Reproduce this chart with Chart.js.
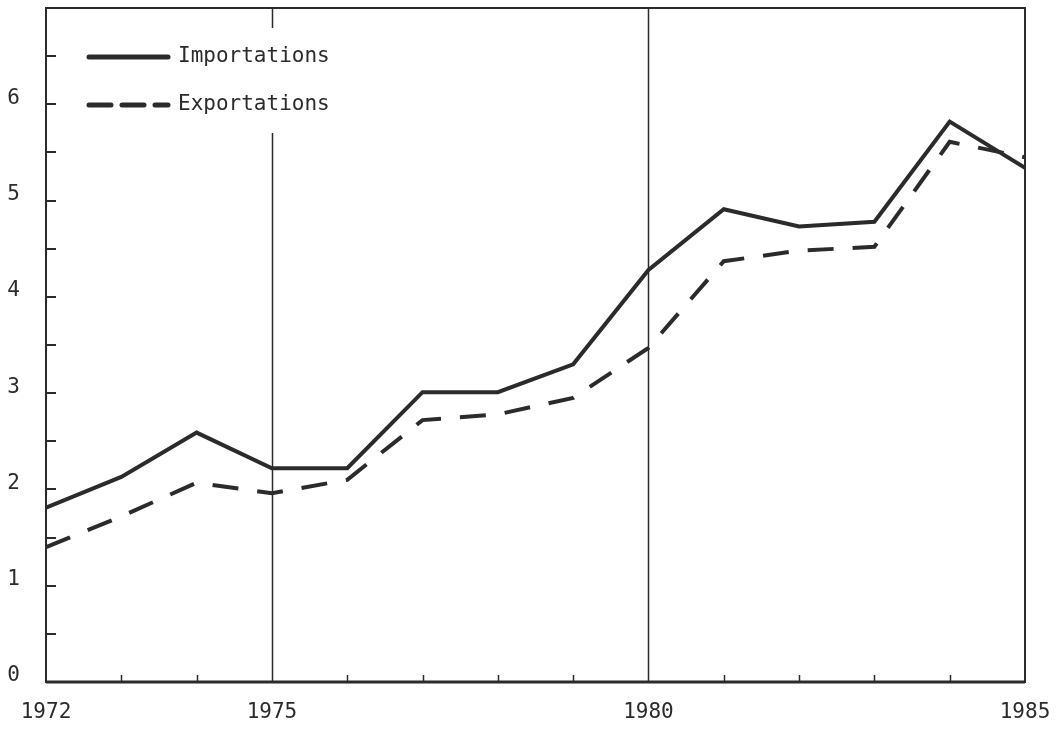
<!DOCTYPE html>
<html>
<head>
<meta charset="utf-8">
<script src="https://cdn.jsdelivr.net/npm/chart.js@4.4.1/dist/chart.umd.min.js"></script>
<style>
  html, body { margin: 0; padding: 0; background: #fff; }
  #wrap { width: 1059px; height: 730px; }
</style>
</head>
<body>
<div id="wrap"><canvas id="tradeChart"></canvas></div>
<script>
const years = [1972, 1973, 1974, 1975, 1976, 1977, 1978, 1979, 1980, 1981, 1982, 1983, 1984, 1985];
const importations = [1.81, 2.13, 2.59, 2.22, 2.22, 3.01, 3.01, 3.30, 4.28, 4.91, 4.73, 4.78, 5.82, 5.34];
const exportations = [1.40, 1.72, 2.07, 1.96, 2.10, 2.72, 2.78, 2.95, 3.47, 4.37, 4.48, 4.52, 5.61, 5.45];
const labelledYears = [1972, 1975, 1980, 1985];
const markerYears = [1975, 1980];
const seriesNames = ['Importations', 'Exportations'];

const ink = '#2b2b2b';
const fontFamily = '"DejaVu Sans Mono", "Liberation Mono", monospace';

function toPoints(values) {
    return years.map((y, i) => ({ x: y, y: values[i] }));
}

function noPad(s) {
    s.paddingTop = 0;
    s.paddingBottom = 0;
    s.paddingLeft = 0;
    s.paddingRight = 0;
}

// frame, inward ticks, year markers and the legend box
const framePlugin = {
    id: 'frame',
    beforeDatasetsDraw(chart) {
        const c = chart.ctx;
        const a = chart.chartArea;
        const xs = chart.scales.x;
        const ys = chart.scales.y;
        c.save();
        c.strokeStyle = ink;

        // vertical marker lines
        c.lineWidth = 1.5;
        markerYears.forEach(yr => {
            const px = Math.round(xs.getPixelForValue(yr)) + 0.5;
            c.beginPath();
            c.moveTo(px, a.top);
            c.lineTo(px, a.bottom);
            c.stroke();
        });

        // white box behind the legend
        c.fillStyle = '#fff';
        c.fillRect(60, 28, 285, 105);

        // left ticks every half unit
        c.lineWidth = 2;
        for (let v = 0.5; v < ys.max; v += 0.5) {
            const py = Math.round(ys.getPixelForValue(v));
            c.beginPath();
            c.moveTo(a.left, py);
            c.lineTo(a.left + 10, py);
            c.stroke();
        }
        // bottom ticks every year
        c.lineWidth = 1.5;
        years.forEach(yr => {
            if (yr === xs.min || yr === xs.max || markerYears.includes(yr)) return;
            const px = Math.round(xs.getPixelForValue(yr)) + 0.5;
            c.beginPath();
            c.moveTo(px, a.bottom);
            c.lineTo(px, a.bottom - 7);
            c.stroke();
        });

        // frame
        c.lineWidth = 2;
        c.strokeRect(a.left, a.top, a.right - a.left, a.bottom - a.top);
        c.lineWidth = 3;
        c.beginPath();
        c.moveTo(a.left, a.bottom);
        c.lineTo(a.right, a.bottom);
        c.stroke();
        c.restore();
    },
    afterDraw(chart) {
        const c = chart.ctx;
        const ds = chart.data.datasets;
        c.save();
        c.lineCap = 'round';
        c.font = '21px ' + fontFamily;
        c.textBaseline = 'middle';
        c.fillStyle = ink;
        const rows = [57, 105];
        ds.forEach((d, i) => {
            c.strokeStyle = d.borderColor;
            c.lineWidth = 5;
            c.setLineDash(i === 0 ? [] : [22, 11]);
            c.beginPath();
            c.moveTo(89, rows[i]);
            c.lineTo(168, rows[i]);
            c.stroke();
            c.fillText(d.label, 178, rows[i]);
        });
        c.restore();
    }
};

const tradeChart = new Chart(document.getElementById('tradeChart'), {
    type: 'line',
    data: {
        datasets: [
            {
                label: seriesNames[0],
                data: toPoints(importations),
                borderColor: ink,
                borderWidth: 4,
                pointRadius: 0,
                tension: 0,
                fill: false
            },
            {
                label: seriesNames[1],
                data: toPoints(exportations),
                borderColor: ink,
                borderWidth: 4,
                borderDash: [26, 19],
                pointRadius: 0,
                tension: 0,
                fill: false
            }
        ]
    },
    options: {
        responsive: true,
        maintainAspectRatio: false,
        animation: false,
        events: [],
        layout: { padding: { left: 0, right: 34, top: 8, bottom: 0 } },
        plugins: {
            legend: { display: false },
            tooltip: { enabled: false }
        },
        scales: {
            x: {
                type: 'linear',
                min: 1972,
                max: 1985,
                afterFit: s => { s.height = 48; noPad(s); },
                grid: { display: false, drawTicks: false },
                border: { display: false },
                ticks: {
                    stepSize: 1,
                    autoSkip: false,
                    maxRotation: 0,
                    padding: 18,
                    color: ink,
                    font: { family: fontFamily, size: 21 },
                    callback: v => labelledYears.includes(v) ? String(v) : ''
                }
            },
            y: {
                min: 0,
                max: 7,
                afterFit: s => { s.width = 46; noPad(s); },
                grid: { display: false, drawTicks: false },
                border: { display: false },
                ticks: {
                    stepSize: 1,
                    padding: 26,
                    labelOffset: -6,
                    color: ink,
                    font: { family: fontFamily, size: 21 },
                    callback: v => (v < 7 ? String(v) : '')
                }
            }
        }
    },
    plugins: [framePlugin]
});
</script>
</body>
</html>
